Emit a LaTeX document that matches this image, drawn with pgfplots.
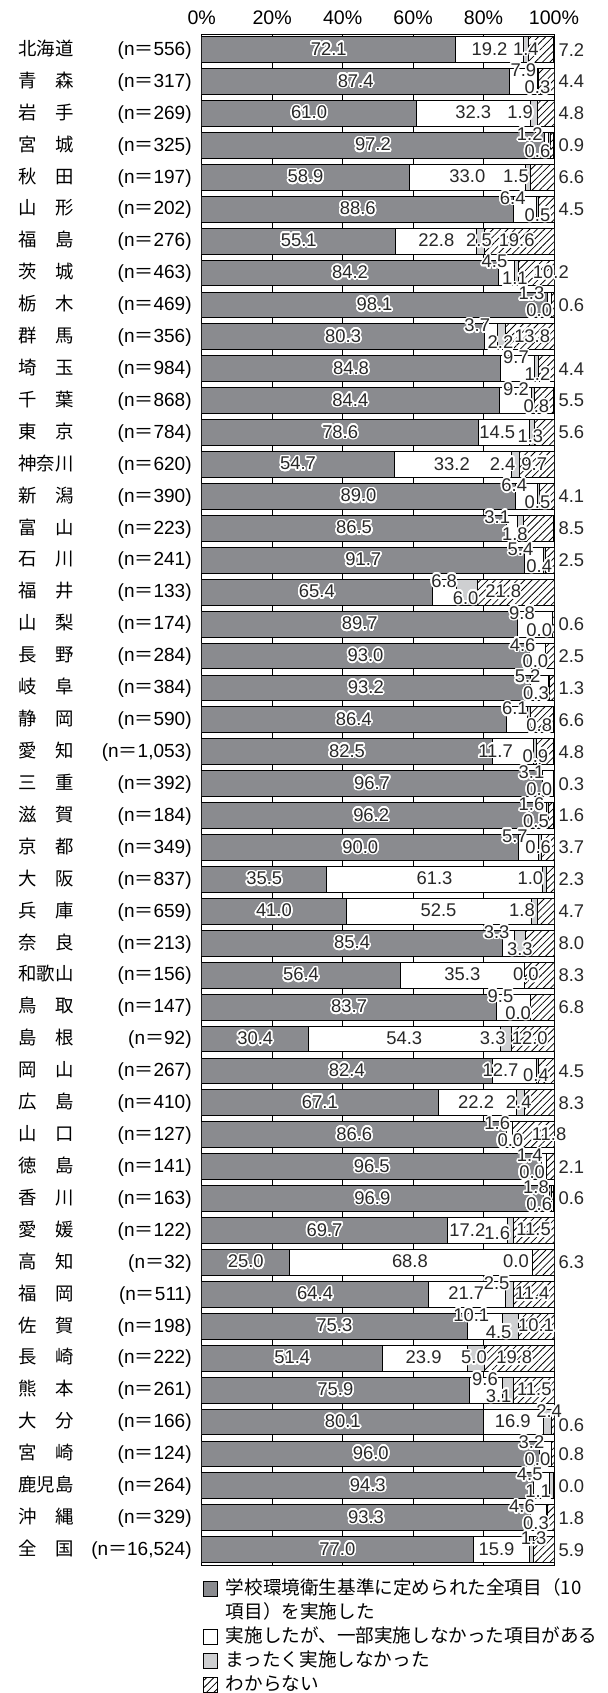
\documentclass[border=0pt]{standalone}
\usepackage{fontspec}
\setmainfont{Liberation Sans}
\newfontfamily\jp{Noto Sans CJK JP}
\usepackage{pgfplots}
\pgfplotsset{compat=1.18}
\usepackage{pgfplotstable}
\usetikzlibrary{patterns.meta}
\usepackage{contour}
\contourlength{0.8pt}
\contournumber{24}

\definecolor{cA}{RGB}{138,139,143}
\definecolor{cC}{RGB}{206,207,209}
\definecolor{txt}{RGB}{40,40,40}

\newcommand\pref[2]{\makebox[86.5pt]{\fontsize{9.2pt}{11pt}\jp #1\hfill\fontsize{9.5pt}{11pt}\rmfamily (n{\jp ＝}#2)}}

\pgfplotstableread{
row a b c d
0 72.1 19.2 1.4 7.2
1 87.4 7.9 0.3 4.4
2 61.0 32.3 1.9 4.8
3 97.2 1.2 0.6 0.9
4 58.9 33.0 1.5 6.6
5 88.6 6.4 0.5 4.5
6 55.1 22.8 2.5 19.6
7 84.2 4.5 1.1 10.2
8 98.1 1.3 0.0 0.6
9 80.3 3.7 2.2 13.8
10 84.8 9.7 1.2 4.4
11 84.4 9.2 0.8 5.5
12 78.6 14.5 1.3 5.6
13 54.7 33.2 2.4 9.7
14 89.0 6.4 0.5 4.1
15 86.5 3.1 1.8 8.5
16 91.7 5.4 0.4 2.5
17 65.4 6.8 6.0 21.8
18 89.7 9.8 0.0 0.6
19 93.0 4.6 0.0 2.5
20 93.2 5.2 0.3 1.3
21 86.4 6.1 0.8 6.6
22 82.5 11.7 0.9 4.8
23 96.7 3.1 0.0 0.3
24 96.2 1.6 0.5 1.6
25 90.0 5.7 0.6 3.7
26 35.5 61.3 1.0 2.3
27 41.0 52.5 1.8 4.7
28 85.4 3.3 3.3 8.0
29 56.4 35.3 0.0 8.3
30 83.7 9.5 0.0 6.8
31 30.4 54.3 3.3 12.0
32 82.4 12.7 0.4 4.5
33 67.1 22.2 2.4 8.3
34 86.6 1.6 0.0 11.8
35 96.5 1.4 0.0 2.1
36 96.9 1.8 0.6 0.6
37 69.7 17.2 1.6 11.5
38 25.0 68.8 0.0 6.3
39 64.4 21.7 2.5 11.4
40 75.3 10.1 4.5 10.1
41 51.4 23.9 5.0 19.8
42 75.9 9.6 3.1 11.5
43 80.1 16.9 2.4 0.6
44 96.0 3.2 0.0 0.8
45 94.3 4.5 1.1 0.0
46 93.3 4.6 0.3 1.8
47 77.0 15.9 1.3 5.9
}\data

\pgfplotstableread{
row x dy lbl
0 81.7 0 19.2
0 92.0 0 1.4
1 91.3 0.33 7.9
1 95.3 -0.2 0.3
2 77.1 0 32.3
2 90.4 0 1.9
3 93.1 0.33 1.2
3 95.3 -0.2 0.6
4 75.4 0 33.0
4 89.2 0 1.5
5 88.3 0.33 6.4
5 95.3 -0.2 0.5
6 66.6 0 22.8
6 78.7 0 2.5
6 89.4 0 19.6
7 83.1 0.33 4.5
7 88.9 -0.2 1.1
7 99.1 0 10.2
8 93.6 0.33 1.3
8 95.8 -0.2 0.0
9 78.2 0.33 3.7
9 84.8 -0.2 2.2
9 93.8 0 13.8
10 89.2 0.33 9.7
10 95.3 -0.2 1.2
11 89.2 0.33 9.2
11 95.0 -0.2 0.8
12 83.9 0 14.5
12 93.3 -0.15 1.3
13 71.0 0 33.2
13 85.4 0 2.4
13 94.4 0 9.7
14 88.7 0.33 6.4
14 95.3 -0.2 0.5
15 83.9 0.33 3.1
15 88.9 -0.2 1.8
16 90.5 0.33 5.4
16 95.8 -0.2 0.4
17 68.8 0.33 6.8
17 74.9 -0.2 6.0
17 85.6 0 21.8
18 90.9 0.33 9.8
18 95.8 -0.2 0.0
19 91.1 0.33 4.6
19 94.7 -0.2 0.0
20 92.5 0.33 5.2
20 94.9 -0.2 0.3
21 88.9 0.33 6.1
21 95.8 -0.2 0.8
22 83.4 0 11.7
22 94.7 -0.15 0.9
23 93.6 0.33 3.1
23 95.8 -0.2 0.0
24 93.6 0.33 1.6
24 94.9 -0.2 0.5
25 88.9 0.33 5.7
25 95.5 0 0.6
26 66.1 0 61.3
26 93.3 0 1.0
27 67.2 0 52.5
27 90.9 0 1.8
28 83.7 0.33 3.3
28 90.3 -0.2 3.3
29 74.0 0 35.3
29 92.0 0 0.0
30 84.8 0.33 9.5
30 89.8 -0.2 0.0
31 57.5 0 54.3
31 82.6 0 3.3
31 93.1 0 12.0
32 84.8 0 12.7
32 94.9 -0.15 0.4
33 77.9 0 22.2
33 90.0 0 2.4
34 83.9 0.33 1.6
34 87.6 -0.2 0.0
34 98.6 0 11.8
35 93.1 0.33 1.4
35 93.8 -0.2 0.0
36 94.9 0.33 1.8
36 95.8 -0.2 0.6
37 75.4 0 17.2
37 83.9 -0.1 1.6
37 94.2 0 11.5
38 59.1 0 68.8
38 89.2 0 0.0
39 75.1 0 21.7
39 83.7 0.33 2.5
39 93.8 0 11.4
40 76.5 0.33 10.1
40 84.3 -0.2 4.5
40 94.9 0 10.1
41 63.0 0 23.9
41 77.3 0 5.0
41 88.7 0 19.8
42 80.4 0.33 9.6
42 84.3 -0.2 3.1
42 94.4 0 11.5
43 88.3 0 16.9
43 98.6 0.33 2.4
44 93.6 0.33 3.2
44 95.3 -0.2 0.0
45 93.1 0.33 4.5
45 95.5 -0.2 1.1
46 90.9 0.33 4.6
46 94.9 -0.2 0.3
47 83.7 0 15.9
47 94.2 0.33 1.3
}\labs

\pgfplotstableread{
row dy lbl
0 0 7.2
1 0 4.4
2 0 4.8
3 0 0.9
4 0 6.6
5 0 4.5
8 0 0.6
10 0 4.4
11 0 5.5
12 0 5.6
14 0 4.1
15 0 8.5
16 0 2.5
18 0 0.6
19 0 2.5
20 0 1.3
21 0 6.6
22 0 4.8
23 0 0.3
24 0 1.6
25 0 3.7
26 0 2.3
27 0 4.7
28 0 8.0
29 0 8.3
30 0 6.8
32 0 4.5
33 0 8.3
35 0 2.1
36 0 0.6
38 0 6.3
43 -0.1 0.6
44 0 0.8
45 0 0.0
46 0 1.8
47 0 5.9
}\outs

\begin{document}
\begin{tikzpicture}
\path[use as bounding box] (0,0) rectangle (304pt,846.5pt);
\begin{axis}[
  at={(100.85pt,64pt)}, anchor=south west,
  scale only axis, width=176.15pt, height=765.35pt,
  xmin=0, xmax=100, ymin=-47.48, ymax=0.48,
  xbar stacked, bar width=0.81,
  axis line style={black, line width=0.5pt},
  xtick={0,20,40,60,80,100},
  xticklabels={0\%,20\%,40\%,60\%,80\%,100\%},
  xticklabel pos=upper,
  xmajorgrids, grid style={black, line width=0.4pt},
  major tick length=0pt,
  xticklabel style={anchor=south, inner sep=0pt, yshift=4.4pt, font=\fontsize{9.8pt}{11pt}\selectfont},
  ytick={-47,-46,...,0},
  yticklabels={
{\pref{全　国}{16,524}},
{\pref{沖　縄}{329}},
{\pref{鹿児島}{264}},
{\pref{宮　崎}{124}},
{\pref{大　分}{166}},
{\pref{熊　本}{261}},
{\pref{長　崎}{222}},
{\pref{佐　賀}{198}},
{\pref{福　岡}{511}},
{\pref{高　知}{32}},
{\pref{愛　媛}{122}},
{\pref{香　川}{163}},
{\pref{徳　島}{141}},
{\pref{山　口}{127}},
{\pref{広　島}{410}},
{\pref{岡　山}{267}},
{\pref{島　根}{92}},
{\pref{鳥　取}{147}},
{\pref{和歌山}{156}},
{\pref{奈　良}{213}},
{\pref{兵　庫}{659}},
{\pref{大　阪}{837}},
{\pref{京　都}{349}},
{\pref{滋　賀}{184}},
{\pref{三　重}{392}},
{\pref{愛　知}{1,053}},
{\pref{静　岡}{590}},
{\pref{岐　阜}{384}},
{\pref{長　野}{284}},
{\pref{山　梨}{174}},
{\pref{福　井}{133}},
{\pref{石　川}{241}},
{\pref{富　山}{223}},
{\pref{新　潟}{390}},
{\pref{神奈川}{620}},
{\pref{東　京}{784}},
{\pref{千　葉}{868}},
{\pref{埼　玉}{984}},
{\pref{群　馬}{356}},
{\pref{栃　木}{469}},
{\pref{茨　城}{463}},
{\pref{福　島}{276}},
{\pref{山　形}{202}},
{\pref{秋　田}{197}},
{\pref{宮　城}{325}},
{\pref{岩　手}{269}},
{\pref{青　森}{317}},
{\pref{北海道}{556}}},
  yticklabel style={anchor=east, inner sep=0pt, xshift=-4.85pt},
  legend cell align=left,
  legend style={at={(rel axis cs:0,0)}, anchor=north west, xshift=0.65pt, yshift=-7.2pt,
    draw=none, fill=none, inner sep=0pt, outer sep=0pt, row sep=2.6pt, column sep=0pt,
    font=\fontsize{9.3pt}{11pt}\jp,
    nodes={inner sep=0pt, text height=7.6pt, text depth=1.8pt}},
  sq/.style={legend image code/.code={\draw[##1] (0pt,-3.6pt) rectangle (7.2pt,3.6pt); \path (11pt,0pt);}},
]
\addplot[fill=cA, draw=black, line width=0.45pt, sq] table[x=a, y expr=-\thisrow{row}] {\data};
\addlegendentry{学校環境衛生基準に定められた全項目（10}
\addlegendimage{empty legend}
\addlegendentry{項目）を実施した}
\addplot[fill=white, draw=black, line width=0.45pt, sq] table[x=b, y expr=-\thisrow{row}] {\data};
\addlegendentry{実施したが、一部実施しなかった項目がある}
\addplot[fill=cC, draw=black, line width=0.45pt, sq] table[x=c, y expr=-\thisrow{row}] {\data};
\addlegendentry{まったく実施しなかった}
\addplot[fill=white, draw=black, line width=0.45pt, postaction={pattern={Lines[angle=45,distance=2.6pt,line width=0.4pt]}}, sq] table[x=d, y expr=-\thisrow{row}] {\data};
\addlegendentry{わからない}
\end{axis}
\begin{axis}[
  at={(100.85pt,64pt)}, anchor=south west,
  scale only axis, width=176.15pt, height=765.35pt,
  xmin=0, xmax=100, ymin=-47.48, ymax=0.48,
  hide axis, clip=false,
  point meta=explicit symbolic,
  nodes near coords={\contour{white}{\pgfplotspointmeta}},
  nodes near coords style={anchor=center, inner sep=0pt, text=txt, font=\fontsize{9.2pt}{10pt}\selectfont},
]
\addplot[only marks, mark=none] table[x expr=\thisrow{a}/2, y expr=-\thisrow{row}, meta=a] {\data};
\addplot[only marks, mark=none] table[x=x, y expr=-\thisrow{row}+\thisrow{dy}, meta=lbl] {\labs};
\addplot[only marks, mark=none, nodes near coords={\pgfplotspointmeta}, nodes near coords style={anchor=west}] table[x expr=101.2, y expr=-\thisrow{row}+\thisrow{dy}, meta=lbl] {\outs};
\end{axis}
\end{tikzpicture}
\end{document}
